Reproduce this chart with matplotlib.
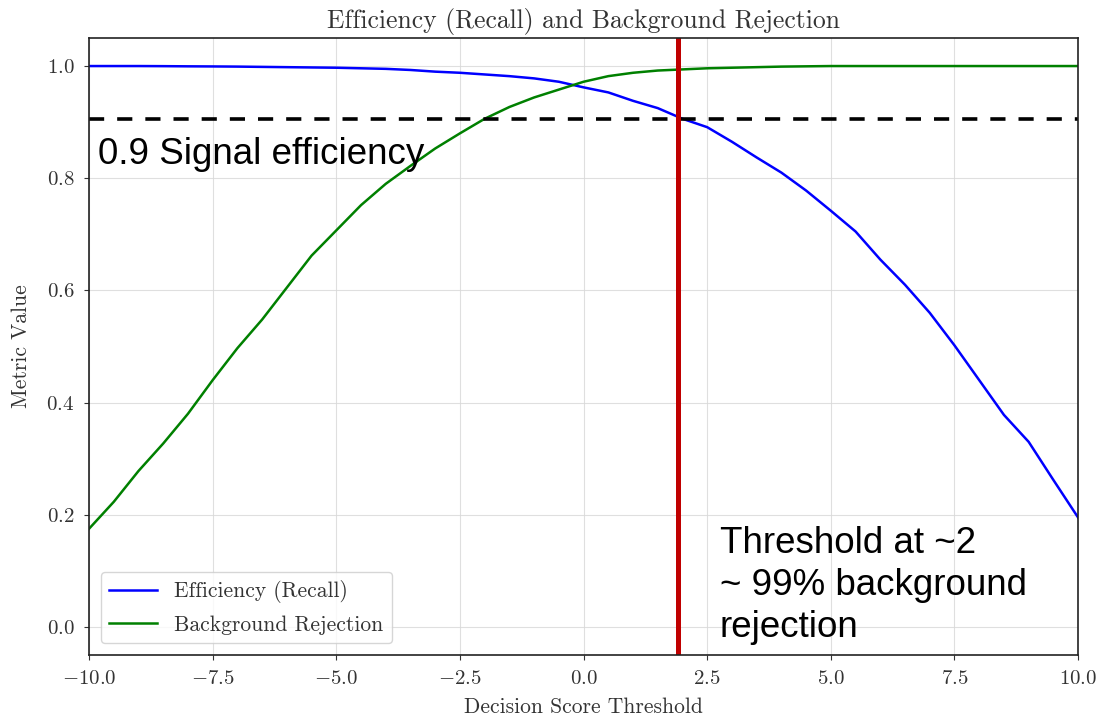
import numpy as np
import matplotlib.pyplot as plt

plt.rcParams['font.family'] = 'cmr10'
plt.rcParams['mathtext.fontset'] = 'cm'
plt.rcParams['axes.formatter.use_mathtext'] = True

# Threshold scan results
thresholds = [-10, -9.5, -9, -8.5, -8, -7.5, -7, -6.5, -6, -5.5, -5, -4.5, -4, -3.5,
              -3, -2.5, -2, -1.5, -1, -0.5, 0, 0.5, 1, 1.5, 2, 2.5, 3, 3.5, 4, 4.5,
              5, 5.5, 6, 6.5, 7, 7.5, 8, 8.5, 9, 9.5, 10]
efficiency = [1.0, 1.0, 1.0, 0.9998, 0.9995, 0.9993, 0.999, 0.9985, 0.998, 0.9975,
              0.997, 0.996, 0.995, 0.993, 0.99, 0.988, 0.985, 0.982, 0.978, 0.972,
              0.962, 0.953, 0.938, 0.925, 0.906, 0.891, 0.865, 0.837, 0.81, 0.778,
              0.742, 0.705, 0.655, 0.61, 0.56, 0.502, 0.44, 0.378, 0.33, 0.262, 0.195]
bkg_rejection = [0.175, 0.223, 0.278, 0.327, 0.38, 0.44, 0.497, 0.548, 0.605, 0.662,
                 0.707, 0.752, 0.79, 0.822, 0.853, 0.88, 0.906, 0.927, 0.944, 0.958,
                 0.972, 0.982, 0.988, 0.992, 0.994, 0.996, 0.997, 0.998, 0.999, 0.9995,
                 1.0, 1.0, 1.0, 1.0, 1.0, 1.0, 1.0, 1.0, 1.0, 1.0, 1.0]

signal_eff_level = 0.905
chosen_threshold = 1.9

fig = plt.figure(figsize=(10.99, 7.17), dpi=100)
ax = fig.add_axes([0.081, 0.0865, 0.9, 0.8605])

ax.plot(thresholds, efficiency, color='blue', lw=1.8, label='Efficiency (Recall)')
ax.plot(thresholds, bkg_rejection, color='green', lw=1.8, label='Background Rejection')

ax.axhline(signal_eff_level, color='black', lw=2.6, dashes=(4.2, 3.6))
ax.axvline(chosen_threshold, color='#c00000', lw=3.6)

ax.set_xlim(-10, 10)
ax.set_ylim(-0.05, 1.05)
ax.set_xticks(np.arange(-10, 10.1, 2.5))
ax.set_yticks(np.arange(0, 1.01, 0.2))
ax.grid(True, color='#d8d8d8', lw=0.8, alpha=0.8)
ax.tick_params(labelsize=15, colors='#333333', labelcolor='#333333', pad=7)
for s in ax.spines.values():
    s.set_linewidth(1.2)
    s.set_color('#222222')

ax.set_title('Efficiency (Recall) and Background Rejection', fontsize=18.5,
             color='#333333', pad=7)
ax.set_xlabel('Decision Score Threshold', fontsize=15.5, color='#333333', labelpad=7)
ax.set_ylabel('Metric Value', fontsize=15.5, color='#333333', labelpad=11)

leg = ax.legend(loc='lower left', fontsize=15.5, borderaxespad=0.55,
                handlelength=2.2, labelspacing=0.55, fancybox=True)
leg.get_frame().set_edgecolor('#cccccc')
for t in leg.get_texts():
    t.set_color('#333333')

sans = ['Liberation Sans', 'DejaVu Sans']
ax.text(-9.82, 0.842, '0.9 Signal efficiency', family=sans, fontsize=26.5,
        va='center', ha='left')
ax.text(2.75, -0.032, 'Threshold at ~2\n~ 99% background\nrejection', family=sans,
        fontsize=26.5, va='bottom', ha='left', linespacing=1.25)

fig.savefig('out.png', dpi=100)
